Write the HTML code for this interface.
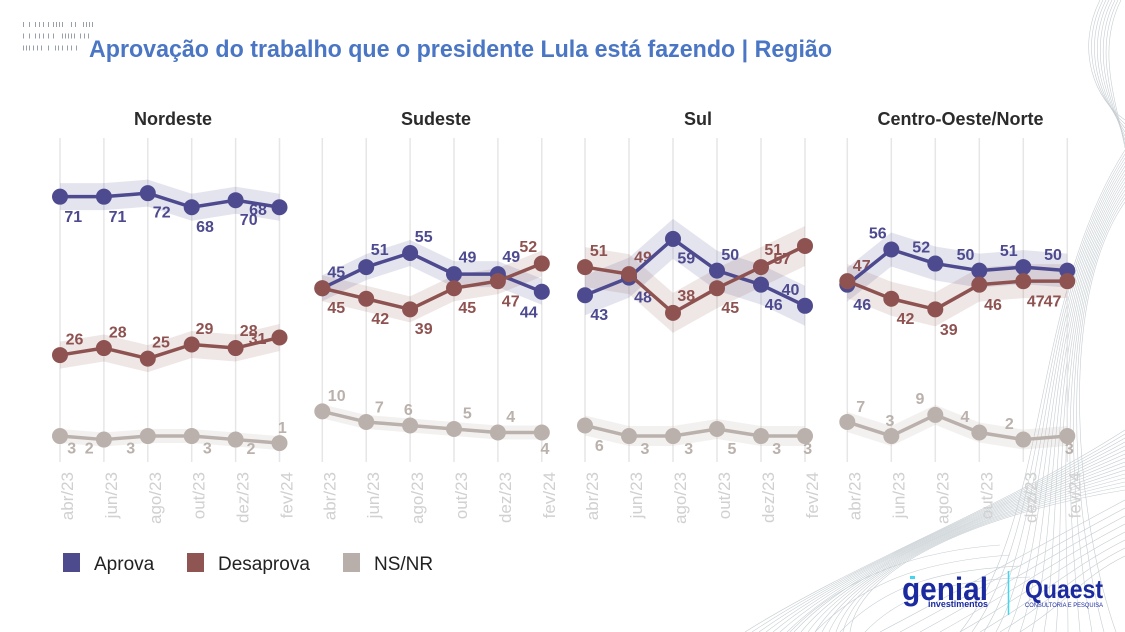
<!DOCTYPE html>
<html><head><meta charset="utf-8"><style>
html,body{margin:0;padding:0;background:#fff;}
svg{display:block;}
text{font-family:"Liberation Sans",Arial,sans-serif;}
.lbl{font-size:16px;font-weight:bold;text-anchor:middle;}
.ax{font-size:17px;fill:#d0d0d0;text-anchor:end;}
.pt{font-size:18px;font-weight:bold;fill:#2b2b2b;text-anchor:middle;}
.a{fill:#4d4a8f}.d{fill:#8e5351}.n{fill:#bbb1ac}
</style></head><body>
<svg width="1125" height="632" viewBox="0 0 1125 632" xmlns="http://www.w3.org/2000/svg">
<rect width="1125" height="632" fill="#fff"/>
<!-- background waves -->
<g fill="none" stroke="#b3bdc3" stroke-width="0.6" opacity="0.75">
<path d="M745,632 C860,560 1000,510 1125,430"/><path d="M752,632 C860,560 1000,510 1125,434"/><path d="M759,632 C860,560 1000,510 1125,438"/><path d="M766,632 C860,560 1000,510 1125,442"/><path d="M773,632 C860,560 1000,510 1125,446"/><path d="M780,632 C860,560 1000,510 1125,450"/><path d="M787,632 C860,560 1000,510 1125,454"/><path d="M794,632 C860,560 1000,510 1125,458"/><path d="M801,632 C860,560 1000,510 1125,462"/><path d="M808,632 C860,560 1000,510 1125,466"/><path d="M815,632 C860,560 1000,510 1125,470"/><path d="M822,632 C860,560 1000,510 1125,474"/><path d="M829,632 C860,560 1000,510 1125,478"/><path d="M836,632 C860,560 1000,510 1125,482"/><path d="M843,632 C860,560 1000,510 1125,486"/><path d="M850,632 C860,560 1000,510 1125,490"/>
<path d="M1125,150 C1030,300 1050,520 960,632"/><path d="M1125,154 C1032,300 1052,520 972,632"/><path d="M1125,158 C1034,300 1054,520 984,632"/><path d="M1125,162 C1036,300 1056,520 996,632"/><path d="M1125,166 C1038,300 1058,520 1008,632"/><path d="M1125,170 C1040,300 1060,520 1020,632"/><path d="M1125,174 C1042,300 1062,520 1032,632"/><path d="M1125,178 C1044,300 1064,520 1044,632"/><path d="M1125,182 C1046,300 1066,520 1056,632"/><path d="M1125,186 C1048,300 1068,520 1068,632"/><path d="M1125,190 C1050,300 1070,520 1080,632"/><path d="M1125,194 C1052,300 1072,520 1092,632"/><path d="M1125,198 C1054,300 1074,520 1104,632"/><path d="M1125,202 C1056,300 1076,520 1116,632"/>
<path d="M1100,0 C1075,50 1095,100 1125,120"/><path d="M1103,0 C1078,50 1098,100 1125,124"/><path d="M1106,0 C1081,50 1101,100 1125,128"/><path d="M1109,0 C1084,50 1104,100 1125,132"/><path d="M1112,0 C1087,50 1107,100 1125,136"/><path d="M1115,0 C1090,50 1110,100 1125,140"/><path d="M1118,0 C1093,50 1113,100 1125,144"/><path d="M1121,0 C1096,50 1116,100 1125,148"/>
<path d="M880,632 C960,590 1050,540 1125,500"/><path d="M900,632 C975,592 1055,545 1125,508"/><path d="M920,632 C990,594 1060,550 1125,516"/><path d="M940,632 C1005,596 1065,555 1125,524"/><path d="M960,632 C1020,598 1070,560 1125,532"/><path d="M980,632 C1035,600 1075,565 1125,540"/><path d="M1000,632 C1050,602 1080,570 1125,548"/><path d="M1020,632 C1065,604 1085,575 1125,556"/>
<path d="M790,632 C850,570 930,550 1000,545"/><path d="M815,632 C870,575 940,560 1010,555"/><path d="M840,632 C890,580 950,570 1020,566"/><path d="M865,632 C905,590 960,580 1030,577"/>
</g>
<!-- top-left marks -->
<g fill="#9aa0a8">
<rect x="23" y="22" width="1" height="5"/><rect x="29" y="22" width="1" height="5"/><rect x="35" y="22" width="1" height="5"/><rect x="39" y="22" width="1" height="5"/><rect x="43" y="22" width="1" height="5"/><rect x="48" y="22" width="1" height="5"/><rect x="53" y="22" width="1" height="5"/><rect x="56" y="22" width="1" height="5"/><rect x="59" y="22" width="1" height="5"/><rect x="62" y="22" width="1" height="5"/><rect x="71" y="22" width="1" height="5"/><rect x="75" y="22" width="1" height="5"/><rect x="83" y="22" width="1" height="5"/><rect x="86" y="22" width="1" height="5"/><rect x="89" y="22" width="1" height="5"/><rect x="92" y="22" width="1" height="5"/>
<rect x="23" y="33.5" width="1" height="5"/><rect x="29" y="33.5" width="1" height="5"/><rect x="35" y="33.5" width="1" height="5"/><rect x="39" y="33.5" width="1" height="5"/><rect x="43" y="33.5" width="1" height="5"/><rect x="48" y="33.5" width="1" height="5"/><rect x="53" y="33.5" width="1" height="5"/><rect x="62" y="33.5" width="1" height="5"/><rect x="65" y="33.5" width="1" height="5"/><rect x="68" y="33.5" width="1" height="5"/><rect x="71" y="33.5" width="1" height="5"/><rect x="74" y="33.5" width="1" height="5"/><rect x="80" y="33.5" width="1" height="5"/><rect x="84" y="33.5" width="1" height="5"/><rect x="88" y="33.5" width="1" height="5"/>
<rect x="23" y="45.5" width="1" height="5"/><rect x="26" y="45.5" width="1" height="5"/><rect x="29" y="45.5" width="1" height="5"/><rect x="33" y="45.5" width="1" height="5"/><rect x="37" y="45.5" width="1" height="5"/><rect x="41" y="45.5" width="1" height="5"/><rect x="48" y="45.5" width="1" height="5"/><rect x="55" y="45.5" width="1" height="5"/><rect x="58" y="45.5" width="1" height="5"/><rect x="62" y="45.5" width="1" height="5"/><rect x="67" y="45.5" width="1" height="5"/><rect x="71" y="45.5" width="1" height="5"/><rect x="76" y="45.5" width="1" height="5"/>
</g>
<text x="89" y="57" font-size="24" font-weight="bold" fill="#4a76c4" textLength="743" lengthAdjust="spacingAndGlyphs">Aprovação do trabalho que o presidente Lula está fazendo | Região</text>
<!-- panel titles -->
<text class="pt" x="173" y="125">Nordeste</text>
<text class="pt" x="436" y="125">Sudeste</text>
<text class="pt" x="698" y="125">Sul</text>
<text class="pt" x="960.5" y="125">Centro-Oeste/Norte</text>
<!-- gridlines -->
<g stroke="#e6e6e6" stroke-width="1.5">
<line x1="60" y1="138" x2="60" y2="462"/><line x1="103.9" y1="138" x2="103.9" y2="462"/><line x1="147.8" y1="138" x2="147.8" y2="462"/><line x1="191.7" y1="138" x2="191.7" y2="462"/><line x1="235.6" y1="138" x2="235.6" y2="462"/><line x1="279.5" y1="138" x2="279.5" y2="462"/>
<line x1="322.3" y1="138" x2="322.3" y2="462"/><line x1="366.2" y1="138" x2="366.2" y2="462"/><line x1="410.1" y1="138" x2="410.1" y2="462"/><line x1="454" y1="138" x2="454" y2="462"/><line x1="497.9" y1="138" x2="497.9" y2="462"/><line x1="541.8" y1="138" x2="541.8" y2="462"/>
<line x1="585" y1="138" x2="585" y2="462"/><line x1="629" y1="138" x2="629" y2="462"/><line x1="673" y1="138" x2="673" y2="462"/><line x1="717" y1="138" x2="717" y2="462"/><line x1="761" y1="138" x2="761" y2="462"/><line x1="805" y1="138" x2="805" y2="462"/>
<line x1="847.3" y1="138" x2="847.3" y2="462"/><line x1="891.3" y1="138" x2="891.3" y2="462"/><line x1="935.3" y1="138" x2="935.3" y2="462"/><line x1="979.3" y1="138" x2="979.3" y2="462"/><line x1="1023.3" y1="138" x2="1023.3" y2="462"/><line x1="1067.3" y1="138" x2="1067.3" y2="462"/>
</g>
<!-- axis labels -->
<g class="ax">
<text class="ax" transform="translate(73,472) rotate(-90)">abr/23</text><text class="ax" transform="translate(116.9,472) rotate(-90)">jun/23</text><text class="ax" transform="translate(160.8,472) rotate(-90)">ago/23</text><text class="ax" transform="translate(204.7,472) rotate(-90)">out/23</text><text class="ax" transform="translate(248.6,472) rotate(-90)">dez/23</text><text class="ax" transform="translate(292.5,472) rotate(-90)">fev/24</text>
<text class="ax" transform="translate(335.3,472) rotate(-90)">abr/23</text><text class="ax" transform="translate(379.2,472) rotate(-90)">jun/23</text><text class="ax" transform="translate(423.1,472) rotate(-90)">ago/23</text><text class="ax" transform="translate(467,472) rotate(-90)">out/23</text><text class="ax" transform="translate(510.9,472) rotate(-90)">dez/23</text><text class="ax" transform="translate(554.8,472) rotate(-90)">fev/24</text>
<text class="ax" transform="translate(598,472) rotate(-90)">abr/23</text><text class="ax" transform="translate(642,472) rotate(-90)">jun/23</text><text class="ax" transform="translate(686,472) rotate(-90)">ago/23</text><text class="ax" transform="translate(730,472) rotate(-90)">out/23</text><text class="ax" transform="translate(774,472) rotate(-90)">dez/23</text><text class="ax" transform="translate(818,472) rotate(-90)">fev/24</text>
<text class="ax" transform="translate(860.3,472) rotate(-90)">abr/23</text><text class="ax" transform="translate(904.3,472) rotate(-90)">jun/23</text><text class="ax" transform="translate(948.3,472) rotate(-90)">ago/23</text><text class="ax" transform="translate(992.3,472) rotate(-90)">out/23</text><text class="ax" transform="translate(1036.3,472) rotate(-90)">dez/23</text><text class="ax" transform="translate(1080.3,472) rotate(-90)">fev/24</text>
</g>
<!-- bands -->
<g fill="#4d4a8f" fill-opacity="0.15">
<polygon points="60,183.18 103.9,183.18 147.8,179.66 191.7,193.74 235.6,186.7 279.5,193.74 279.5,220.74 235.6,213.7 191.7,220.74 147.8,206.66 103.9,210.18 60,210.18"/>
<polygon points="322.3,275.2 366.2,254.08 410.1,240 454,261.12 497.9,261.12 541.8,278.72 541.8,304.72 497.9,287.12 454,287.12 410.1,266 366.2,280.08 322.3,301.2"/>
<polygon points="585,275.24 629,257.64 673,218.92 717,250.6 761,264.68 805,285.8 805,325.8 761,304.68 717,290.6 673,258.92 629,297.64 585,315.24"/>
<polygon points="847.3,267.68 891.3,232.48 935.3,246.56 979.3,253.6 1023.3,250.08 1067.3,253.6 1067.3,287.6 1023.3,284.08 979.3,287.6 935.3,280.56 891.3,266.48 847.3,301.68"/>
</g>
<g fill="#8e5351" fill-opacity="0.14">
<polygon points="60,341.58 103.9,334.54 147.8,345.1 191.7,331.02 235.6,334.54 279.5,323.98 279.5,350.98 235.6,361.54 191.7,358.02 147.8,372.1 103.9,361.54 60,368.58"/>
<polygon points="322.3,275.2 366.2,285.76 410.1,296.32 454,275.2 497.9,268.16 541.8,250.56 541.8,276.56 497.9,294.16 454,301.2 410.1,322.32 366.2,311.76 322.3,301.2"/>
<polygon points="585,247.08 629,254.12 673,292.84 717,268.2 761,247.08 805,225.96 805,265.96 761,287.08 717,308.2 673,332.84 629,294.12 585,287.08"/>
<polygon points="847.3,264.16 891.3,281.76 935.3,292.32 979.3,267.68 1023.3,264.16 1067.3,264.16 1067.3,298.16 1023.3,298.16 979.3,301.68 935.3,326.32 891.3,315.76 847.3,298.16"/>
</g>
<g fill="#bbb1ac" fill-opacity="0.18">
<polygon points="60,429.04 103.9,432.56 147.8,429.04 191.7,429.04 235.6,432.56 279.5,436.08 279.5,450.08 235.6,446.56 191.7,443.04 147.8,443.04 103.9,446.56 60,443.04"/>
<polygon points="322.3,404.4 366.2,414.96 410.1,418.48 454,422 497.9,425.52 541.8,425.52 541.8,439.52 497.9,439.52 454,436 410.1,432.48 366.2,428.96 322.3,418.4"/>
<polygon points="585,415.48 629,426.04 673,426.04 717,419 761,426.04 805,426.04 805,446.04 761,446.04 717,439 673,446.04 629,446.04 585,435.48"/>
<polygon points="847.3,411.96 891.3,426.04 935.3,404.92 979.3,422.52 1023.3,429.56 1067.3,426.04 1067.3,446.04 1023.3,449.56 979.3,442.52 935.3,424.92 891.3,446.04 847.3,431.96"/>
</g>
<!-- labels -->
<g>
<text class="lbl a" x="73.3" y="221.8">71</text><text class="lbl a" x="117.5" y="221.8">71</text><text class="lbl a" x="161.7" y="217.5">72</text><text class="lbl a" x="205" y="231.8">68</text><text class="lbl a" x="248.7" y="225.1">70</text><text class="lbl a" x="258" y="215.1">68</text>
<text class="lbl a" x="336.3" y="277.5">45</text><text class="lbl a" x="379.7" y="255.1">51</text><text class="lbl a" x="423.7" y="241.8">55</text><text class="lbl a" x="467.5" y="262.5">49</text><text class="lbl a" x="511.3" y="261.8">49</text><text class="lbl a" x="528.8" y="317.5">44</text>
<text class="lbl a" x="599.3" y="319.8">43</text><text class="lbl a" x="643" y="302.5">48</text><text class="lbl a" x="686.3" y="263.5">59</text><text class="lbl a" x="730.3" y="259.8">50</text><text class="lbl a" x="773.7" y="309.8">46</text><text class="lbl a" x="790.5" y="295.1">40</text>
<text class="lbl a" x="862.2" y="309.8">46</text><text class="lbl a" x="877.8" y="238.5">56</text><text class="lbl a" x="921.2" y="252.5">52</text><text class="lbl a" x="965.5" y="259.8">50</text><text class="lbl a" x="1008.8" y="255.8">51</text><text class="lbl a" x="1053" y="259.8">50</text>
</g>
<g>
<text class="lbl d" x="74.5" y="344.5">26</text><text class="lbl d" x="117.8" y="337.5">28</text><text class="lbl d" x="161" y="347.5">25</text><text class="lbl d" x="204.5" y="334.1">29</text><text class="lbl d" x="248.7" y="335.8">28</text><text class="lbl d" x="257.5" y="344.1">31</text>
<text class="lbl d" x="336.3" y="313.1">45</text><text class="lbl d" x="380.3" y="324.1">42</text><text class="lbl d" x="423.7" y="334.1">39</text><text class="lbl d" x="467.3" y="313.1">45</text><text class="lbl d" x="510.7" y="306.5">47</text><text class="lbl d" x="528.3" y="251.8">52</text>
<text class="lbl d" x="598.8" y="255.8">51</text><text class="lbl d" x="643" y="262.5">49</text><text class="lbl d" x="686.3" y="300.8">38</text><text class="lbl d" x="730.3" y="313.1">45</text><text class="lbl d" x="773.3" y="255.1">51</text><text class="lbl d" x="782.3" y="264.1">57</text>
<text class="lbl d" x="861.7" y="270.8">47</text><text class="lbl d" x="905.5" y="324.1">42</text><text class="lbl d" x="948.8" y="335.1">39</text><text class="lbl d" x="993" y="309.8">46</text><text class="lbl d" x="1035.8" y="306.5">47</text><text class="lbl d" x="1052.5" y="306.5">47</text>
</g>
<g>
<text class="lbl n" x="71.7" y="453.3">3</text><text class="lbl n" x="89.2" y="453.3">2</text><text class="lbl n" x="130.7" y="453.3">3</text><text class="lbl n" x="207.3" y="453.3">3</text><text class="lbl n" x="251" y="454.1">2</text><text class="lbl n" x="282.3" y="433.1">1</text>
<text class="lbl n" x="336.7" y="400.8">10</text><text class="lbl n" x="379.3" y="412.5">7</text><text class="lbl n" x="408.3" y="415.1">6</text><text class="lbl n" x="467.3" y="418.5">5</text><text class="lbl n" x="510.7" y="421.8">4</text><text class="lbl n" x="545" y="454.1">4</text>
<text class="lbl n" x="599.3" y="450.8">6</text><text class="lbl n" x="645" y="454.1">3</text><text class="lbl n" x="688.7" y="454.1">3</text><text class="lbl n" x="732" y="454.1">5</text><text class="lbl n" x="776.7" y="454.1">3</text><text class="lbl n" x="807.7" y="454.1">3</text>
<text class="lbl n" x="860.7" y="411.8">7</text><text class="lbl n" x="890" y="425.8">3</text><text class="lbl n" x="920" y="404.1">9</text><text class="lbl n" x="965" y="421.8">4</text><text class="lbl n" x="1009.3" y="429.1">2</text><text class="lbl n" x="1069.3" y="454.1">3</text>
</g>
<!-- Aprova lines -->
<g fill="none" stroke="#4d4a8f" stroke-width="3.5" stroke-linejoin="round">
<polyline points="60,196.68 103.9,196.68 147.8,193.16 191.7,207.24 235.6,200.2 279.5,207.24"/>
<polyline points="322.3,288.2 366.2,267.08 410.1,253 454,274.12 497.9,274.12 541.8,291.72"/>
<polyline points="585,295.24 629,277.64 673,238.92 717,270.6 761,284.68 805,305.8"/>
<polyline points="847.3,284.68 891.3,249.48 935.3,263.56 979.3,270.6 1023.3,267.08 1067.3,270.6"/>
</g>
<g fill="#4d4a8f">
<circle cx="60" cy="196.68" r="8"/><circle cx="103.9" cy="196.68" r="8"/><circle cx="147.8" cy="193.16" r="8"/><circle cx="191.7" cy="207.24" r="8"/><circle cx="235.6" cy="200.2" r="8"/><circle cx="279.5" cy="207.24" r="8"/>
<circle cx="322.3" cy="288.2" r="8"/><circle cx="366.2" cy="267.08" r="8"/><circle cx="410.1" cy="253" r="8"/><circle cx="454" cy="274.12" r="8"/><circle cx="497.9" cy="274.12" r="8"/><circle cx="541.8" cy="291.72" r="8"/>
<circle cx="585" cy="295.24" r="8"/><circle cx="629" cy="277.64" r="8"/><circle cx="673" cy="238.92" r="8"/><circle cx="717" cy="270.6" r="8"/><circle cx="761" cy="284.68" r="8"/><circle cx="805" cy="305.8" r="8"/>
<circle cx="847.3" cy="284.68" r="8"/><circle cx="891.3" cy="249.48" r="8"/><circle cx="935.3" cy="263.56" r="8"/><circle cx="979.3" cy="270.6" r="8"/><circle cx="1023.3" cy="267.08" r="8"/><circle cx="1067.3" cy="270.6" r="8"/>
</g>
<!-- Desaprova lines -->
<g fill="none" stroke="#8e5351" stroke-width="3.5" stroke-linejoin="round">
<polyline points="60,355.08 103.9,348.04 147.8,358.6 191.7,344.52 235.6,348.04 279.5,337.48"/>
<polyline points="322.3,288.2 366.2,298.76 410.1,309.32 454,288.2 497.9,281.16 541.8,263.56"/>
<polyline points="585,267.08 629,274.12 673,312.84 717,288.2 761,267.08 805,245.96"/>
<polyline points="847.3,281.16 891.3,298.76 935.3,309.32 979.3,284.68 1023.3,281.16 1067.3,281.16"/>
</g>
<g fill="#8e5351">
<circle cx="60" cy="355.08" r="8"/><circle cx="103.9" cy="348.04" r="8"/><circle cx="147.8" cy="358.6" r="8"/><circle cx="191.7" cy="344.52" r="8"/><circle cx="235.6" cy="348.04" r="8"/><circle cx="279.5" cy="337.48" r="8"/>
<circle cx="322.3" cy="288.2" r="8"/><circle cx="366.2" cy="298.76" r="8"/><circle cx="410.1" cy="309.32" r="8"/><circle cx="454" cy="288.2" r="8"/><circle cx="497.9" cy="281.16" r="8"/><circle cx="541.8" cy="263.56" r="8"/>
<circle cx="585" cy="267.08" r="8"/><circle cx="629" cy="274.12" r="8"/><circle cx="673" cy="312.84" r="8"/><circle cx="717" cy="288.2" r="8"/><circle cx="761" cy="267.08" r="8"/><circle cx="805" cy="245.96" r="8"/>
<circle cx="847.3" cy="281.16" r="8"/><circle cx="891.3" cy="298.76" r="8"/><circle cx="935.3" cy="309.32" r="8"/><circle cx="979.3" cy="284.68" r="8"/><circle cx="1023.3" cy="281.16" r="8"/><circle cx="1067.3" cy="281.16" r="8"/>
</g>
<!-- NS lines -->
<g fill="none" stroke="#bbb1ac" stroke-width="3.5" stroke-linejoin="round">
<polyline points="60,436.04 103.9,439.56 147.8,436.04 191.7,436.04 235.6,439.56 279.5,443.08"/>
<polyline points="322.3,411.4 366.2,421.96 410.1,425.48 454,429 497.9,432.52 541.8,432.52"/>
<polyline points="585,425.48 629,436.04 673,436.04 717,429 761,436.04 805,436.04"/>
<polyline points="847.3,421.96 891.3,436.04 935.3,414.92 979.3,432.52 1023.3,439.56 1067.3,436.04"/>
</g>
<g fill="#bbb1ac">
<circle cx="60" cy="436.04" r="8"/><circle cx="103.9" cy="439.56" r="8"/><circle cx="147.8" cy="436.04" r="8"/><circle cx="191.7" cy="436.04" r="8"/><circle cx="235.6" cy="439.56" r="8"/><circle cx="279.5" cy="443.08" r="8"/>
<circle cx="322.3" cy="411.4" r="8"/><circle cx="366.2" cy="421.96" r="8"/><circle cx="410.1" cy="425.48" r="8"/><circle cx="454" cy="429" r="8"/><circle cx="497.9" cy="432.52" r="8"/><circle cx="541.8" cy="432.52" r="8"/>
<circle cx="585" cy="425.48" r="8"/><circle cx="629" cy="436.04" r="8"/><circle cx="673" cy="436.04" r="8"/><circle cx="717" cy="429" r="8"/><circle cx="761" cy="436.04" r="8"/><circle cx="805" cy="436.04" r="8"/>
<circle cx="847.3" cy="421.96" r="8"/><circle cx="891.3" cy="436.04" r="8"/><circle cx="935.3" cy="414.92" r="8"/><circle cx="979.3" cy="432.52" r="8"/><circle cx="1023.3" cy="439.56" r="8"/><circle cx="1067.3" cy="436.04" r="8"/>
</g>
<!-- legend -->
<rect x="63" y="553" width="17" height="19" fill="#4e4a8e"/>
<text x="94" y="570" font-size="19" fill="#222">Aprova</text>
<rect x="187" y="553" width="17" height="19" fill="#8f5552"/>
<text x="218" y="570" font-size="19" fill="#222">Desaprova</text>
<rect x="343" y="553" width="17" height="19" fill="#b9afaa"/>
<text x="374" y="570" font-size="19" fill="#222">NS/NR</text>
<!-- logos -->
<text x="902" y="600" font-size="32" font-weight="bold" fill="#1c2aa0" textLength="86" lengthAdjust="spacingAndGlyphs">genial</text>
<rect x="910" y="576" width="5" height="3" fill="#3fd6ee"/>
<text x="928" y="607" font-size="9" font-weight="bold" fill="#1c2aa0" textLength="60" lengthAdjust="spacingAndGlyphs">investimentos</text>
<line x1="1008.5" y1="571" x2="1008.5" y2="615" stroke="#3fd6ee" stroke-width="1.5"/>
<text x="1025" y="598" font-size="26" font-weight="bold" fill="#1c2aa0" textLength="78" lengthAdjust="spacingAndGlyphs">Quaest</text>
<text x="1025" y="607" font-size="6.5" fill="#1c2aa0" textLength="78" lengthAdjust="spacingAndGlyphs">CONSULTORIA E PESQUISA</text>
</svg>
</body></html>
